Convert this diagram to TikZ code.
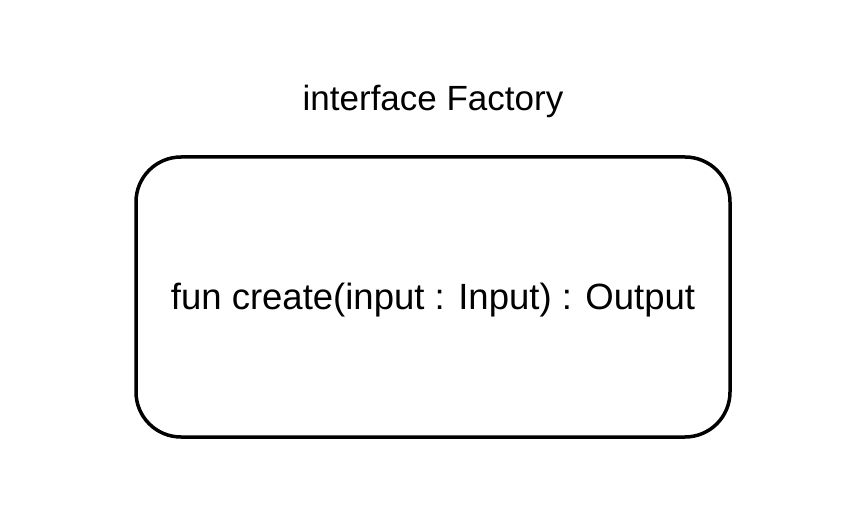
\documentclass[tikz,border=0pt]{standalone}
\usepackage{fontspec}
\setmainfont{Liberation Sans}
\begin{document}
\begin{tikzpicture}[x=1pt,y=1pt,
  boxstyle/.style={draw, line width=3.5pt, rounded corners=45pt},
  txt/.style={inner sep=0pt}]
\useasboundingbox (0,0) rectangle (846,512);
\draw[boxstyle] (136,75) rectangle (730,355);
\node[txt, font=\fontsize{35}{40}\selectfont] (title) at (433,411) {interface Factory};
\node[txt, font=\fontsize{36.5}{42}\selectfont] (method) at (433,212) {fun create(input : Input) : Output};
\end{tikzpicture}
\end{document}
